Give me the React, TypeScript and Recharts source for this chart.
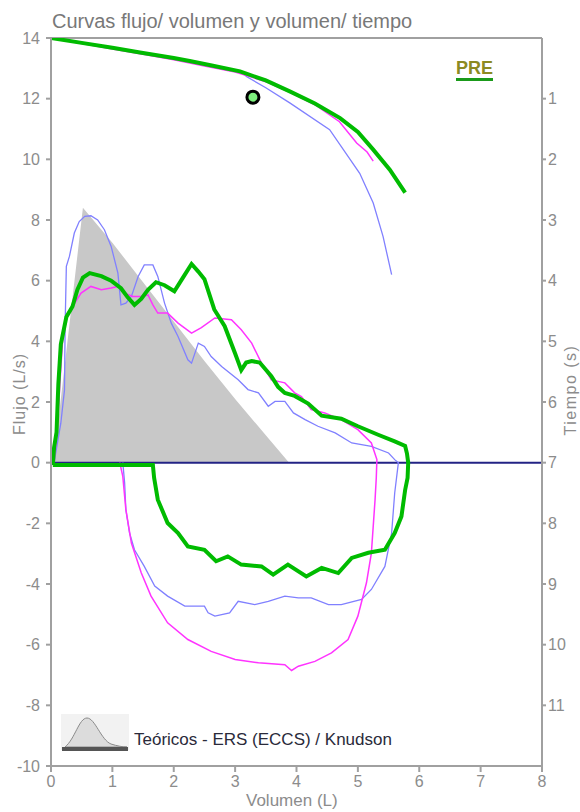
import React from 'react';
import { ComposedChart, Line, Area, Scatter, XAxis, YAxis, ReferenceLine } from 'recharts';

const volTicks = [0, 1, 2, 3, 4, 5, 6, 7, 8];
const flowTicks = [-10, -8, -6, -4, -2, 0, 2, 4, 6, 8, 10, 12, 14];
const timeTicks = [1, 2, 3, 4, 5, 6, 7, 8, 9, 10, 11];

// teorico (relleno gris)
const teoVol = [0.04, 0.52, 1.0, 1.5, 2.0, 2.5, 3.0, 3.5, 3.88];
const teoFlujo = [0, 8.4, 7.25, 5.95, 4.65, 3.35, 2.1, 0.9, 0];

// curva verde (PRE) flujo/volumen
const verdeVol = [0.03, 0.05, 0.09, 0.12, 0.16, 0.25, 0.35, 0.43, 0.52, 0.63, 0.82, 0.98, 1.14, 1.25, 1.36, 1.47, 1.58, 1.71, 1.85, 2.01, 2.15, 2.29, 2.4, 2.5, 2.66, 2.83, 3.0, 3.1, 3.18, 3.27, 3.4, 3.59, 3.7, 3.81, 3.97, 4.19, 4.41, 4.73, 5.0, 5.33, 5.6, 5.77, 5.8, 5.82,
  5.81, 5.77, 5.71, 5.6, 5.44, 5.17, 4.9, 4.68, 4.41, 4.16, 3.86, 3.62, 3.43, 3.1, 2.88, 2.69, 2.5, 2.23, 2.07, 1.9, 1.74, 1.68, 1.66, 0.03];
const verdeFlujo = [-0.08, 0.5, 1.0, 2.6, 3.9, 4.8, 5.15, 5.7, 6.1, 6.25, 6.15, 6.0, 5.75, 5.45, 5.2, 5.4, 5.7, 5.95, 5.85, 5.65, 6.1, 6.55, 6.3, 6.05, 5.05, 4.5, 3.6, 3.05, 3.3, 3.35, 3.3, 2.85, 2.5, 2.3, 2.2, 1.95, 1.55, 1.45, 1.2, 0.92, 0.7, 0.55, 0.3, 0,
  -0.5, -0.9, -1.77, -2.32, -2.87, -2.97, -3.14, -3.64, -3.47, -3.75, -3.36, -3.69, -3.42, -3.36, -3.09, -3.25, -2.87, -2.76, -2.32, -1.99, -1.22, -0.5, -0.08, -0.08];

// curva magenta
const magentaVol = [0.05, 0.11, 0.15, 0.19, 0.27, 0.35, 0.49, 0.65, 0.82, 0.98, 1.09, 1.2, 1.33, 1.47, 1.58, 1.66, 1.74, 1.9, 2.07, 2.29, 2.45, 2.67, 2.94, 3.1, 3.27, 3.43, 3.59, 3.81, 3.97, 4.08, 4.24, 4.46, 4.73, 5.0, 5.22, 5.31,
  5.3, 5.28, 5.22, 5.14, 5.0, 4.84, 4.57, 4.3, 4.03, 3.92, 3.81, 3.38, 3.0, 2.61, 2.23, 1.9, 1.63, 1.47, 1.31, 1.22, 1.17, 1.12];
const magentaFlujo = [0, 1.3, 2.8, 4.05, 4.93, 5.15, 5.59, 5.81, 5.7, 5.76, 5.81, 5.59, 5.48, 5.48, 5.53, 5.2, 4.93, 4.93, 4.6, 4.27, 4.45, 4.77, 4.71, 4.38, 3.94, 3.28, 2.73, 2.63, 2.3, 2.18, 1.75, 1.64, 1.42, 1.09, 0.65, 0.1,
  -0.5, -1.22, -2.98, -3.96, -5.06, -5.83, -6.27, -6.55, -6.71, -6.85, -6.66, -6.6, -6.49, -6.22, -5.83, -5.28, -4.4, -3.63, -2.65, -1.55, -0.45, 0];

// curva azul
const azulVol = [0.05, 0.16, 0.22, 0.23, 0.25, 0.3, 0.38, 0.46, 0.55, 0.65, 0.76, 0.87, 0.98, 1.09, 1.14, 1.22, 1.31, 1.42, 1.52, 1.66, 1.74, 1.85, 1.96, 2.07, 2.23, 2.29, 2.4, 2.5, 2.61, 2.78, 3.05, 3.21, 3.38, 3.54, 3.65, 3.81, 3.95, 4.14, 4.35, 4.63, 4.9, 5.22, 5.5, 5.6, 5.66,
  5.6, 5.55, 5.44, 5.22, 5.06, 4.73, 4.52, 4.24, 4.03, 3.81, 3.54, 3.32, 3.05, 2.91, 2.67, 2.56, 2.5, 2.18, 1.9, 1.69, 1.52, 1.36, 1.28, 1.22, 1.2, 1.17];
const azulFlujo = [0, 1.3, 2.4, 4.5, 6.47, 6.8, 7.57, 7.95, 8.12, 8.14, 8.0, 7.68, 7.13, 6.25, 5.2, 5.26, 5.48, 6.14, 6.52, 6.52, 6.14, 5.26, 4.6, 4.16, 3.39, 3.28, 3.94, 3.83, 3.5, 3.17, 2.73, 2.41, 2.3, 1.86, 2.02, 2.02, 1.64, 1.42, 1.2, 0.98, 0.65, 0.54, 0.32, 0.1, 0,
  -1.0, -2.32, -3.42, -4.18, -4.51, -4.68, -4.68, -4.46, -4.46, -4.4, -4.57, -4.68, -4.57, -4.95, -5.06, -4.95, -4.73, -4.73, -4.4, -4.07, -3.42, -2.87, -2.32, -1.55, -0.67, 0];

// volumen/tiempo (eje derecho, segundos)
const verdeVtVol = [0, 0.5, 1.0, 1.45, 2.0, 2.26, 2.6, 3.08, 3.5, 3.89, 4.3, 4.71, 5.0, 5.25, 5.52, 5.77];
const verdeVtT = [0, 0.08, 0.16, 0.24, 0.33, 0.38, 0.45, 0.55, 0.7, 0.88, 1.08, 1.32, 1.55, 1.84, 2.17, 2.55];
const magentaVtVol = [0, 0.5, 1.0, 1.5, 2.0, 2.5, 3.0, 3.5, 3.9, 4.3, 4.7, 4.98, 5.15, 5.25];
const magentaVtT = [0, 0.09, 0.18, 0.27, 0.36, 0.46, 0.56, 0.72, 0.9, 1.1, 1.38, 1.73, 1.88, 2.03];
const azulVtVol = [0, 0.5, 1.0, 1.5, 2.0, 2.5, 2.9, 3.1, 3.19, 3.5, 3.89, 4.54, 5.03, 5.25, 5.41, 5.55];
const azulVtT = [0, 0.08, 0.17, 0.26, 0.35, 0.44, 0.52, 0.56, 0.64, 0.82, 1.07, 1.51, 2.23, 2.72, 3.27, 3.9];

// marcador (FEV1)
const marcaVol = [3.29];
const marcaFlujo = [12.05];

const zip = (xs: number[], ys: number[]) => xs.map((x, i) => ({ x, y: ys[i] }));

const Marca = (props: any) => (
  <circle cx={props.cx} cy={props.cy} r={6} fill="#7ef07e" stroke="#000" strokeWidth={3} />
);

const GREEN = '#00bb00';
const MAGENTA = '#ff33ff';
const BLUE = '#8080ff';
const AXIS = '#a0a0a0';
const TICK = '#8c8c8c';

export default function App() {
  return (
    <div style={{ position: 'absolute', left: 0, top: 0, width: 580, height: 812, background: '#fff', fontFamily: '"Liberation Sans", Arial, sans-serif' }}>
      <ComposedChart width={580} height={812} margin={{ top: 38, right: 0, bottom: 0, left: 0 }}>
        <XAxis type="number" dataKey="x" domain={[0, 8]} ticks={volTicks} interval={0} height={46} stroke={AXIS} strokeWidth={2}
          tick={{ fill: TICK, fontSize: 16 }} tickSize={6} tickMargin={4} allowDataOverflow />
        <YAxis yAxisId="left" type="number" domain={[-10, 14]} ticks={flowTicks} interval={0} width={51} stroke={AXIS} strokeWidth={2}
          tick={{ fill: TICK, fontSize: 16 }} tickSize={5} tickMargin={6} allowDataOverflow />
        <YAxis yAxisId="right" orientation="right" type="number" domain={[0, 12]} reversed ticks={timeTicks} interval={0} width={38}
          stroke={AXIS} strokeWidth={2} tick={{ fill: TICK, fontSize: 16 }} tickSize={4} tickMargin={2} allowDataOverflow />
        <ReferenceLine yAxisId="left" y={14} stroke={AXIS} strokeWidth={2} />

        <Area yAxisId="left" data={zip(teoVol, teoFlujo)} dataKey="y" type="linear" fill="#c8c8c8" fillOpacity={1} stroke="none" isAnimationActive={false} />
        <ReferenceLine yAxisId="left" y={0} stroke="#232385" strokeWidth={2} />

        <Line yAxisId="left" data={zip(azulVol, azulFlujo)} dataKey="y" type="linear" stroke={BLUE} strokeWidth={1.3} dot={false} isAnimationActive={false} />
        <Line yAxisId="left" data={zip(magentaVol, magentaFlujo)} dataKey="y" type="linear" stroke={MAGENTA} strokeWidth={1.5} dot={false} isAnimationActive={false} />
        <Line yAxisId="left" data={zip(verdeVol, verdeFlujo)} dataKey="y" type="linear" stroke={GREEN} strokeWidth={4} dot={false} isAnimationActive={false} />

        <Line yAxisId="right" data={zip(azulVtVol, azulVtT)} dataKey="y" type="linear" stroke={BLUE} strokeWidth={1.3} dot={false} isAnimationActive={false} />
        <Line yAxisId="right" data={zip(magentaVtVol, magentaVtT)} dataKey="y" type="linear" stroke={MAGENTA} strokeWidth={1.5} dot={false} isAnimationActive={false} />
        <Line yAxisId="right" data={zip(verdeVtVol, verdeVtT)} dataKey="y" type="linear" stroke={GREEN} strokeWidth={4} dot={false} isAnimationActive={false} />

        <Scatter yAxisId="left" data={zip(marcaVol, marcaFlujo)} dataKey="y" shape={Marca} isAnimationActive={false} />
      </ComposedChart>

      <div style={{ position: 'absolute', left: 52, top: 8, height: 26, overflow: 'hidden', fontSize: 20, lineHeight: '26px', color: '#787878', whiteSpace: 'nowrap' }}>
        Curvas flujo/ volumen y volumen/ tiempo
      </div>
      <div style={{ position: 'absolute', left: 456, top: 59, fontSize: 18, fontWeight: 'bold', color: '#8c8a22', borderBottom: '3px solid #1a9a1a', lineHeight: '19px', paddingBottom: 0 }}>
        PRE
      </div>
      <div style={{ position: 'absolute', left: 20, top: 394, width: 0, height: 0 }}>
        <div style={{ position: 'absolute', transform: 'translate(-50%, -50%) rotate(-90deg)', fontSize: 16, letterSpacing: 1, color: TICK, whiteSpace: 'nowrap' }}>Flujo (L/s)</div>
      </div>
      <div style={{ position: 'absolute', left: 571, top: 390, width: 0, height: 0 }}>
        <div style={{ position: 'absolute', transform: 'translate(-50%, -50%) rotate(-90deg)', fontSize: 16, letterSpacing: 1.5, color: TICK, whiteSpace: 'nowrap' }}>Tiempo (s)</div>
      </div>
      <div style={{ position: 'absolute', left: 246, top: 791, fontSize: 17, color: TICK, whiteSpace: 'nowrap' }}>Volumen (L)</div>

      <svg style={{ position: 'absolute', left: 61, top: 714 }} width={68} height={40}>
        <rect x={0} y={0} width={68} height={36} fill="#f2f2f2" />
        <path d="M4 33 C 14 25, 18 4, 26 4 C 34 4, 40 26, 50 30 C 56 32, 62 33, 66 33 Z" fill="#dcdcdc" stroke="#8a8a8a" strokeWidth={1} />
        <rect x={1} y={33} width={66} height={4} fill="#555" />
      </svg>
      <div style={{ position: 'absolute', left: 134, top: 730, fontSize: 17, color: '#2a2a3a', whiteSpace: 'nowrap' }}>
        Teóricos - ERS (ECCS) / Knudson
      </div>
    </div>
  );
}
